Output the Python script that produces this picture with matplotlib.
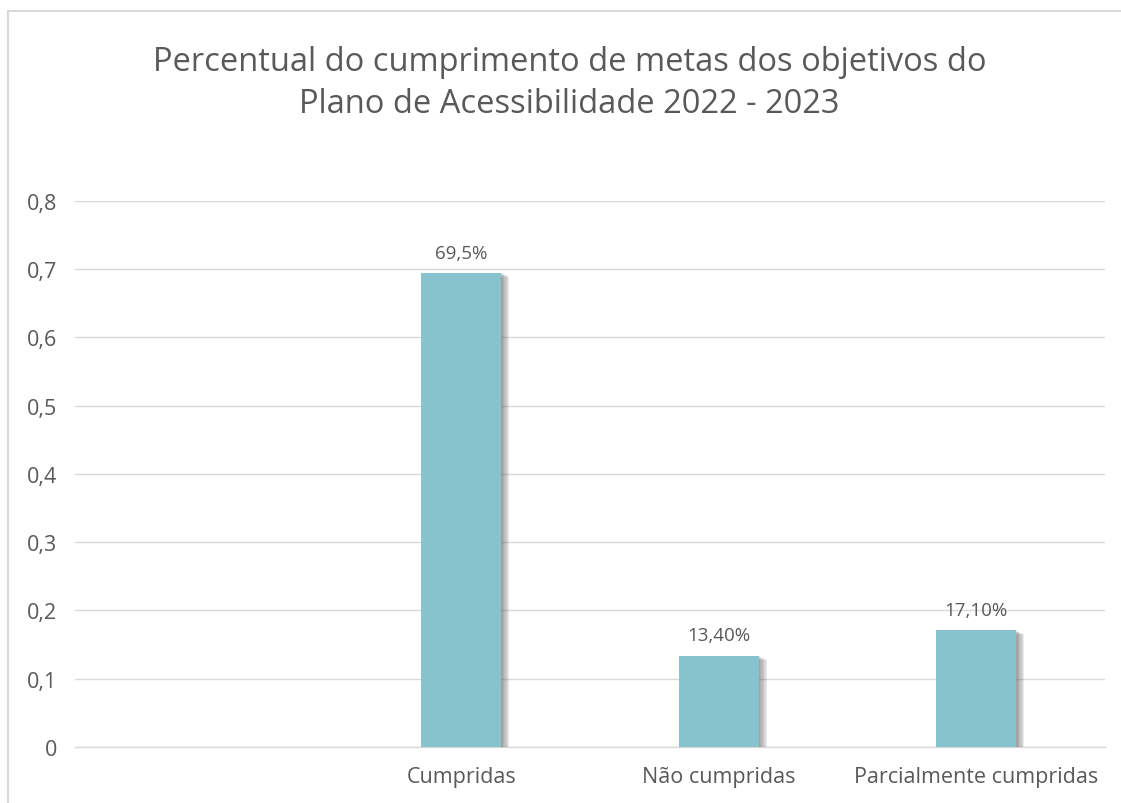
import numpy as np
import matplotlib.pyplot as plt
import matplotlib.patheffects as pe
from matplotlib.patches import Rectangle

# -----------------------------
# Data
# -----------------------------
categories = ["", "Cumpridas", "Não cumpridas", "Parcialmente cumpridas"]
values = [np.nan, 0.695, 0.134, 0.171]
value_labels = ["", "69,5%", "13,40%", "17,10%"]
y_ticks = [0, 0.1, 0.2, 0.3, 0.4, 0.5, 0.6, 0.7, 0.8]
y_tick_labels = ["0", "0,1", "0,2", "0,3", "0,4", "0,5", "0,6", "0,7", "0,8"]

BAR_COLOR = "#86C3CC"
TEXT_COLOR = "#595959"
GRID_COLOR = "#d9d9d9"

plt.rcParams["font.family"] = ["Open Sans", "DejaVu Sans"]

fig = plt.figure(figsize=(11.21, 8.04), dpi=100)
ax = fig.add_axes([0.0669, 0.0697, 0.9188, 0.6791])

# soft shadow: stack of faint offset copies
shadow = [pe.SimplePatchShadow(offset=(k, -k * 0.5), shadow_rgbFace="#606060", alpha=0.13)
          for k in range(6, 0, -1)]

# -----------------------------
# Bars (skip the empty category)
# -----------------------------
x = np.arange(len(categories))
for xi, v, lab in zip(x, values, value_labels):
    if np.isnan(v):
        continue
    ax.bar(xi, v, width=0.31, color=BAR_COLOR, zorder=3,
           path_effects=shadow + [pe.Normal()])
    ax.annotate(lab, (xi, v), xytext=(0, 8), textcoords="offset points",
                ha="center", va="bottom", fontsize=13.5, color=TEXT_COLOR, zorder=4)

# -----------------------------
# Axes styling
# -----------------------------
ax.set_xlim(-0.5, len(categories) - 0.5)
ax.set_ylim(0, 0.8)
ax.set_yticks(y_ticks)
ax.set_yticklabels(y_tick_labels)
ax.set_xticks(x)
ax.set_xticklabels(categories)
ax.tick_params(axis="y", length=0, pad=13, labelsize=15.5, labelcolor=TEXT_COLOR)
ax.tick_params(axis="x", length=0, pad=14, labelsize=15.5, labelcolor=TEXT_COLOR)
ax.grid(axis="y", color=GRID_COLOR, linewidth=1, zorder=0)
for side in ["top", "right", "left"]:
    ax.spines[side].set_visible(False)
ax.spines["bottom"].set_color(GRID_COLOR)
ax.spines["bottom"].set_linewidth(1)

fig.text(0.508, 0.896,
         "Percentual do cumprimento de metas dos objetivos do\nPlano de Acessibilidade 2022 - 2023",
         ha="center", va="center", fontsize=23.5, color=TEXT_COLOR, linespacing=1.35)

# chart border (cut off on right and bottom)
fig.patches.append(Rectangle((8 / 1121, -0.1), 1.2, 1.1 - 12 / 804,
                             transform=fig.transFigure, fill=False,
                             edgecolor=GRID_COLOR, linewidth=1.5))

fig.savefig("out.png", dpi=100)
